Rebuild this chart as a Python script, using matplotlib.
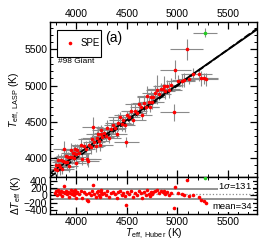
import matplotlib
matplotlib.use("Agg")
import matplotlib.pyplot as plt
from matplotlib.patches import Rectangle
import numpy as np

plt.rcParams['font.family'] = ['Liberation Sans', 'DejaVu Sans']
plt.rcParams['mathtext.fontset'] = 'custom'
plt.rcParams['mathtext.rm'] = 'Liberation Sans'
plt.rcParams['mathtext.it'] = 'Liberation Sans:italic'

# Huber Teff and residual (LASP - Huber)
teff_huber = [3790, 3800, 3810, 3820, 3830, 3840, 3850, 3860, 3870, 3880,
              3885, 3900, 3910, 3920, 3930, 3940, 3950, 3960, 3965, 3975,
              3980, 3990, 3995, 4000, 4010,
              4030, 4050, 4060, 4075, 4090, 4100, 4110, 4125, 4140, 4150,
              4160, 4175, 4190, 4200, 4210, 4220, 4230, 4240, 4245, 4250,
              4270, 4290, 4300, 4320, 4340, 4360, 4380, 4400, 4410, 4430,
              4450, 4460, 4480, 4495, 4500,
              4520, 4540, 4560, 4580, 4600, 4620, 4640, 4650, 4670, 4690,
              4700, 4720, 4730, 4740, 4750,
              4760, 4780, 4800, 4820, 4840, 4860, 4870, 4880, 4900, 4920,
              4940, 4970, 4980,
              5010, 5040, 5060, 5090, 5110, 5150, 5210, 5230, 5260, 5285]
delta_t = [60, 110, 20, 150, 80, 40, 120, -10, 90, 250,
           60, 130, 30, 100, -40, 70, 160, 50, 110, 20,
           90, 140, -60, 60, 100,
           40, 130, -80, 90, 30, -120, -150, 60, 10, 110,
           275, 50, -30, 80, 120, 20, -50, 90, 140, 40,
           70, 10, 110, -40, 60, 100, 30, -70, 80, 130,
           20, 60, -20, -270, 90,
           40, 110, -30, 70, 20, 130, 60, -60, 90, 10,
           150, 50, -20, 100, 30,
           80, 120, 140, 60, 110, 90, 130, 40, 100, 20,
           70, -340, 240,
           60, 30, 20, 410, -20, 10, -50, -130, -160, -200]
xerr = [120, 100, 130, 90, 110, 140, 100, 120, 90, 110,
        130, 100, 120, 140, 90, 110, 100, 130, 120, 90,
        110, 140, 100, 120, 130,
        110, 100, 130, 120, 90, 140, 110, 100, 120, 130,
        100, 110, 90, 140, 120, 100, 130, 110, 90, 120,
        100, 130, 110, 120, 140, 90, 110, 100, 130, 120,
        110, 140, 100, 120, 130,
        110, 100, 130, 120, 90, 140, 110, 100, 120, 130,
        100, 110, 90, 140, 120,
        100, 130, 110, 120, 140, 160, 110, 100, 130, 120,
        110, 140, 150,
        120, 130, 110, 160, 100, 120, 130, 110, 140, 120]
yerr = [90, 70, 100, 80, 60, 110, 90, 70, 80, 100,
        60, 90, 110, 70, 80, 60, 100, 90, 70, 80,
        110, 60, 90, 70, 80,
        90, 100, 70, 60, 110, 80, 90, 70, 100, 60,
        130, 80, 70, 90, 110, 60, 80, 100, 70, 90,
        80, 60, 110, 70, 90, 100, 80, 60, 120, 70,
        90, 80, 100, 70, 60,
        80, 110, 70, 90, 60, 100, 80, 70, 110, 90,
        150, 80, 70, 90, 100,
        60, 110, 200, 80, 90, 70, 130, 100, 80, 110,
        90, 120, 130,
        80, 90, 100, 150, 70, 80, 90, 100, 80, 90]

# the green point
green_huber = 5270
green_lasp = 5730
green_err = (120, 60)

fit_slope = 0.97
fit_intercept = 162
mean_dt = 34
sigma_dt = 131

teff_huber = np.array(teff_huber)
delta_t = np.array(delta_t)
teff_lasp = teff_huber + delta_t

fig = plt.figure(figsize=(2.77, 2.46), dpi=100)
ax = fig.add_axes([0.181, 0.281, 0.748, 0.630])
ax2 = fig.add_axes([0.181, 0.130, 0.748, 0.151], sharex=ax)

xlim = (3740, 5790)

ax.errorbar(teff_huber, teff_lasp, xerr=xerr, yerr=yerr, fmt='none',
            ecolor='#8a8a8a', elinewidth=0.8, zorder=1)
ax.errorbar([green_huber], [green_lasp], xerr=[green_err[0]], yerr=[green_err[1]],
            fmt='none', ecolor='#8a8a8a', elinewidth=0.8, zorder=1)
xx = np.array(xlim)
ax.plot(xx, xx, 'k--', lw=1.3, zorder=2)
ax.plot(xx, fit_slope * xx + fit_intercept, 'k-', lw=1.3, zorder=2)
ax.plot(teff_huber, teff_lasp, 'o', color='red', ms=2.6, mec='none', zorder=3)
ax.plot([green_huber], [green_lasp], 'o', color='#22cc22', ms=2.6, mec='none', zorder=3)

ax.set_xlim(*xlim)
ax.set_ylim(3740, 5880)
ax.set_xticks([4000, 4500, 5000, 5500])
ax.set_yticks([4000, 4500, 5000, 5500])
ax.set_xticks(np.arange(3800, 5800, 100), minor=True)
ax.set_yticks(np.arange(3800, 5900, 100), minor=True)
ax.tick_params(which='both', direction='in', top=True, right=True,
               labeltop=True, labelbottom=False, labelsize=7.5, pad=2)
ax.tick_params(which='major', length=5, width=0.9)
ax.tick_params(which='minor', length=2.5, width=0.7)
ax.set_ylabel(r'$T_{\rm eff,\ LASP}$ (K)', fontsize=7.5, labelpad=2)

# legend box drawn by hand to match the original size
ax.add_patch(Rectangle((0.034, 0.774), 0.212, 0.174, transform=ax.transAxes,
                       fill=False, ec='black', lw=0.8, zorder=4))
ax.plot([0.097], [0.861], 'o', color='red', ms=2.6, mec='none',
        transform=ax.transAxes, zorder=4)
ax.text(0.148, 0.861, 'SPE', transform=ax.transAxes, fontsize=7, va='center')
ax.text(0.265, 0.895, '(a)', transform=ax.transAxes, fontsize=10, va='center')
ax.text(0.036, 0.742, '#98 Giant', transform=ax.transAxes, fontsize=6, va='center')

for s in ax.spines.values():
    s.set_linewidth(1.0)

# residual panel
ax2.axhline(mean_dt + sigma_dt, color='#8a8a8a', lw=1.3, zorder=1)
ax2.axhline(mean_dt - sigma_dt, color='#8a8a8a', lw=1.3, zorder=1)
ax2.axhline(mean_dt, color='#8a8a8a', lw=0.9, ls=':', zorder=1)
ax2.plot(teff_huber, delta_t, 'o', color='red', ms=2.6, mec='none', zorder=3)
ax2.plot([green_huber], [green_lasp - green_huber], 'o', color='#22cc22', ms=2.6,
         mec='none', zorder=3)
ax2.set_ylim(-500, 500)
ax2.set_yticks([-400, -200, 0, 200, 400])
ax2.set_yticks(np.arange(-500, 501, 100), minor=True)
ax2.tick_params(which='both', direction='in', top=True, right=True,
                labelsize=7.5, pad=2)
ax2.tick_params(which='major', length=5, width=0.9)
ax2.tick_params(which='minor', length=2.5, width=0.7)
ax2.set_ylabel(r'$\Delta T_{\rm eff}$ (K)', fontsize=7.5, labelpad=1)
ax2.set_xlabel(r'$T_{\rm eff,\ Huber}$ (K)', fontsize=7.5, labelpad=0)
box = dict(facecolor='white', edgecolor='none', pad=0.3)
ax2.text(0.975, 0.76, r'1$\sigma$=131', transform=ax2.transAxes, fontsize=6.8,
         ha='right', va='center', bbox=box, zorder=5)
ax2.text(0.975, 0.19, 'mean=34', transform=ax2.transAxes, fontsize=6.8,
         ha='right', va='center', bbox=box, zorder=5)
for s in ax2.spines.values():
    s.set_linewidth(1.0)

fig.savefig('out.png', dpi=100)
